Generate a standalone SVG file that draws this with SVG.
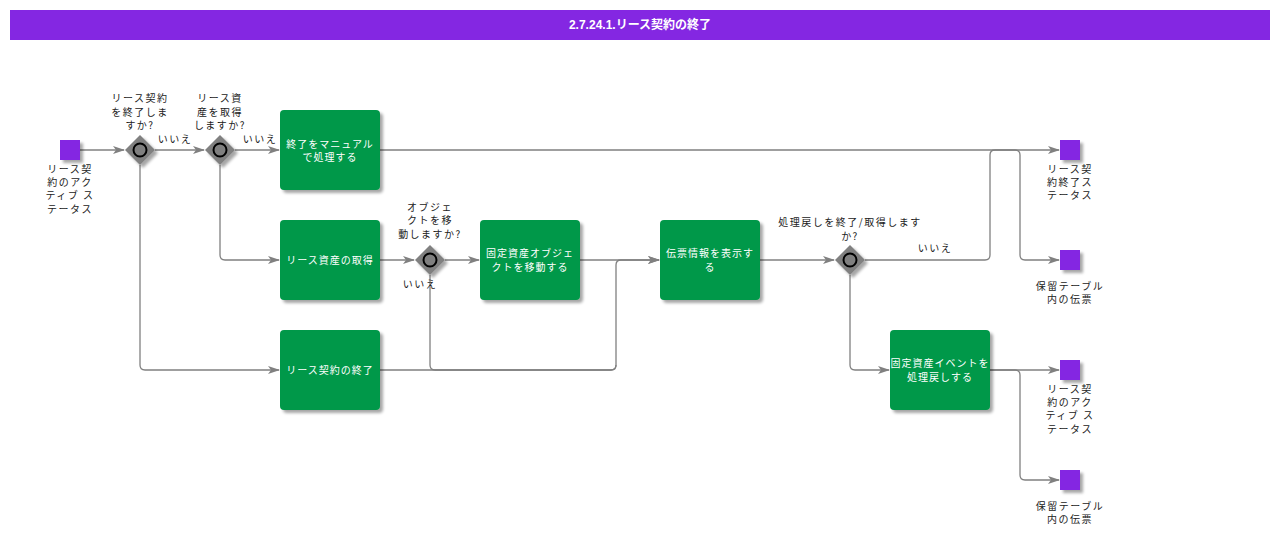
<svg xmlns="http://www.w3.org/2000/svg" width="1280" height="544" viewBox="0 0 1280 544">
<defs>
<marker id="arr" markerWidth="12" markerHeight="8" refX="11" refY="4" orient="auto" markerUnits="userSpaceOnUse">
<path d="M0,0 L12,4 L0,8 L3,4 Z" fill="#808080"/>
</marker>
<filter id="sh" x="-20%" y="-20%" width="150%" height="150%">
<feGaussianBlur in="SourceAlpha" stdDeviation="1.5"/>
<feOffset dx="3" dy="3" result="b"/>
<feComponentTransfer><feFuncA type="linear" slope="0.35"/></feComponentTransfer>
<feMerge><feMergeNode/><feMergeNode in="SourceGraphic"/></feMerge>
</filter>
</defs>
<style>
.t{fill:#00984A;filter:url(#sh)}
.e{fill:#8427E2;filter:url(#sh)}
.g{fill:#808080;filter:url(#sh)}
.gc{fill:#808080;stroke:#000;stroke-width:2}
.wt{font-family:"Noto Sans CJK JP",sans-serif;font-size:10px;fill:#fff;text-anchor:middle;letter-spacing:1px}
.lb{font-family:"Noto Sans CJK JP",sans-serif;font-size:10px;fill:#222;text-anchor:middle;letter-spacing:1.5px}
.c{fill:none;stroke:#808080;stroke-width:1.3}
</style>
<rect x="10" y="10" width="1260" height="30" fill="#8427E2"/>
<text x="640" y="29" font-family="Liberation Sans,'Noto Sans CJK JP',sans-serif" font-size="12" font-weight="bold" fill="#fff" text-anchor="middle">2.7.24.1.リース契約の終了</text>

<g id="connectors">
<path class="c" d="M80,150 H124" marker-end="url(#arr)"/>
<path class="c" d="M155,150 H204" marker-end="url(#arr)"/>
<path class="c" d="M235,150 H279" marker-end="url(#arr)"/>
<path class="c" d="M140,165 V365 Q140,370 145,370 H279" marker-end="url(#arr)"/>
<path class="c" d="M220,165 V255 Q220,260 225,260 H279" marker-end="url(#arr)"/>
<path class="c" d="M380,260 H414" marker-end="url(#arr)"/>
<path class="c" d="M445,260 H479" marker-end="url(#arr)"/>
<path class="c" d="M430,275 V365 Q430,370 435,370 H611 Q616,370 616,365 V265 Q616,260 621,260 H659" marker-end="url(#arr)"/>
<path class="c" d="M380,370 H611 Q616,370 616,365"/>
<path class="c" d="M580,260 H659" marker-end="url(#arr)"/>
<path class="c" d="M760,260 H834" marker-end="url(#arr)"/>
<path class="c" d="M865,260 H985 Q990,260 990,255 V155 Q990,150 995,150 H1059" marker-end="url(#arr)"/>
<path class="c" d="M380,150 H1015 Q1020,150 1020,155 V255 Q1020,260 1025,260 H1059" marker-end="url(#arr)"/>
<path class="c" d="M850,275 V365 Q850,370 855,370 H889" marker-end="url(#arr)"/>
<path class="c" d="M990,370 H1059" marker-end="url(#arr)"/>
<path class="c" d="M990,370 H1015 Q1020,370 1020,375 V475 Q1020,480 1025,480 H1059" marker-end="url(#arr)"/>
</g>

<g id="start">
<rect class="e" x="60" y="140" width="20" height="20"/>
<text class="lb" x="70" y="173">リース契</text>
<text class="lb" x="70" y="186">約のアク</text>
<text class="lb" x="70" y="199">ティブ ス</text>
<text class="lb" x="70" y="213">テータス</text>
</g>

<g id="gw1">
<path class="g" d="M140,135 L155,150 L140,165 L125,150 Z"/>
<circle class="gc" cx="140" cy="150" r="6.5"/>
<text class="lb" x="140" y="102">リース契約</text>
<text class="lb" x="140" y="116">を終了しま</text>
<text class="lb" x="140" y="129">すか?</text>
<text class="lb" x="175" y="143" font-size="9">いいえ</text>
</g>

<g id="gw2">
<path class="g" d="M220,135 L235,150 L220,165 L205,150 Z"/>
<circle class="gc" cx="220" cy="150" r="6.5"/>
<text class="lb" x="220" y="102">リース資</text>
<text class="lb" x="220" y="116">産を取得</text>
<text class="lb" x="220" y="129">しますか?</text>
<text class="lb" x="260" y="143" font-size="9">いいえ</text>
</g>

<g id="task1">
<rect class="t" x="280" y="110" width="100" height="80" rx="4"/>
<text class="wt" x="330" y="148">終了をマニュアル</text>
<text class="wt" x="330" y="161">で処理する</text>
</g>

<g id="task2">
<rect class="t" x="280" y="220" width="100" height="80" rx="4"/>
<text class="wt" x="330" y="264">リース資産の取得</text>
</g>

<g id="task3">
<rect class="t" x="280" y="330" width="100" height="80" rx="4"/>
<text class="wt" x="330" y="374">リース契約の終了</text>
</g>

<g id="gw3">
<path class="g" d="M430,245 L445,260 L430,275 L415,260 Z"/>
<circle class="gc" cx="430" cy="260" r="6.5"/>
<text class="lb" x="430" y="211">オブジェ</text>
<text class="lb" x="430" y="224">クトを移</text>
<text class="lb" x="430" y="238">動しますか?</text>
<text class="lb" x="420" y="288" font-size="9">いいえ</text>
</g>

<g id="task4">
<rect class="t" x="480" y="220" width="100" height="80" rx="4"/>
<text class="wt" x="530" y="257">固定資産オブジェ</text>
<text class="wt" x="530" y="271">クトを移動する</text>
</g>

<g id="task5">
<rect class="t" x="660" y="220" width="100" height="80" rx="4"/>
<text class="wt" x="710" y="257">伝票情報を表示す</text>
<text class="wt" x="710" y="271">る</text>
</g>

<g id="gw4">
<path class="g" d="M850,245 L865,260 L850,275 L835,260 Z"/>
<circle class="gc" cx="850" cy="260" r="6.5"/>
<text class="lb" x="850" y="226" letter-spacing="0.5">処理戻しを終了/取得します</text>
<text class="lb" x="850" y="240">か?</text>
<text class="lb" x="935" y="252" font-size="9">いいえ</text>
</g>

<g id="task6">
<rect class="t" x="890" y="330" width="100" height="80" rx="4"/>
<text class="wt" x="940" y="367" letter-spacing="0.5">固定資産イベントを</text>
<text class="wt" x="940" y="381">処理戻しする</text>
</g>

<g id="end1">
<rect class="e" x="1060" y="140" width="20" height="20"/>
<text class="lb" x="1070" y="173">リース契</text>
<text class="lb" x="1070" y="186">約終了ス</text>
<text class="lb" x="1070" y="199">テータス</text>
</g>

<g id="end2">
<rect class="e" x="1060" y="250" width="20" height="20"/>
<text class="lb" x="1070" y="290" letter-spacing="0.5">保留テーブル</text>
<text class="lb" x="1070" y="303">内の伝票</text>
</g>

<g id="end3">
<rect class="e" x="1060" y="360" width="20" height="20"/>
<text class="lb" x="1070" y="393">リース契</text>
<text class="lb" x="1070" y="406">約のアク</text>
<text class="lb" x="1070" y="419">ティブ ス</text>
<text class="lb" x="1070" y="433">テータス</text>
</g>

<g id="end4">
<rect class="e" x="1060" y="470" width="20" height="20"/>
<text class="lb" x="1070" y="510" letter-spacing="0.5">保留テーブル</text>
<text class="lb" x="1070" y="523">内の伝票</text>
</g>
</svg>
